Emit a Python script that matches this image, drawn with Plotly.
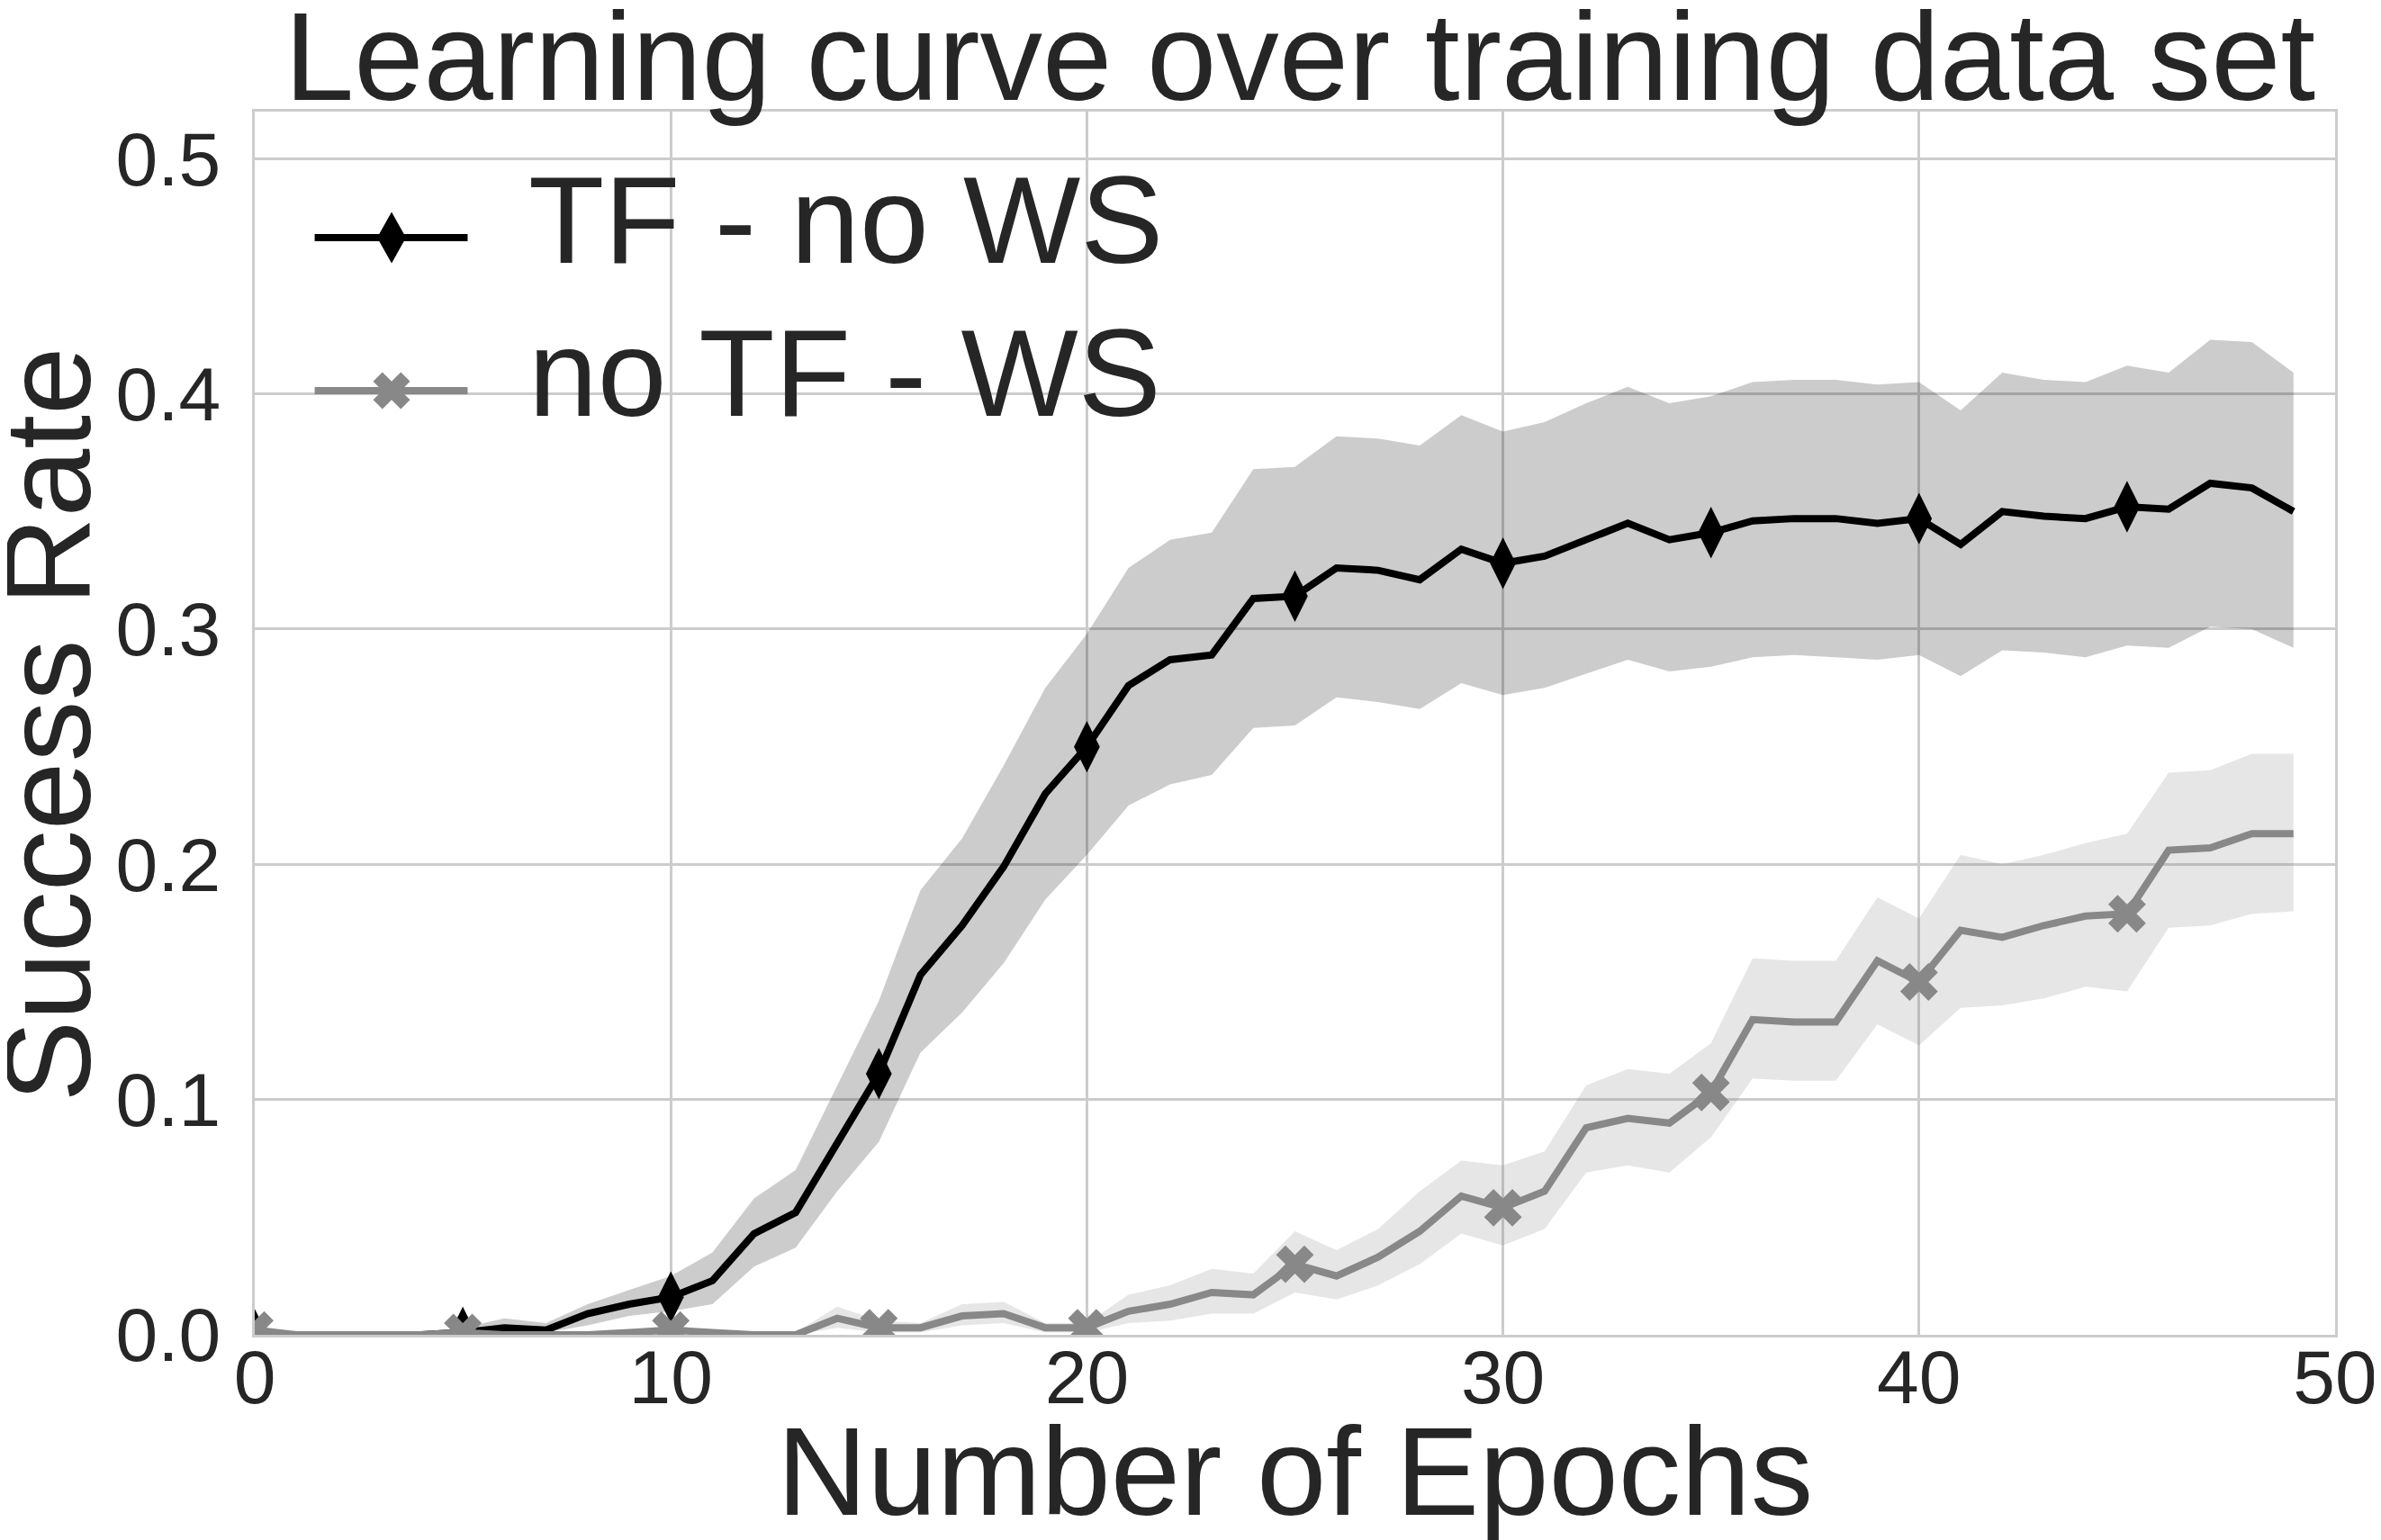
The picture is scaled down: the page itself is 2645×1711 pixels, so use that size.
import plotly.graph_objects as go

# epochs and success rates (mean with spread band)
epochs = list(range(50))

tf_mean = [0.000, 0.000, 0.000, 0.000, 0.000, 0.001, 0.003, 0.002, 0.009, 0.013,
           0.016, 0.023, 0.043, 0.052, 0.082, 0.111, 0.153, 0.174, 0.199, 0.230,
           0.250, 0.276, 0.287, 0.289, 0.313, 0.314, 0.326, 0.325, 0.321, 0.334,
           0.328, 0.331, 0.338, 0.345, 0.338, 0.341, 0.346, 0.347, 0.347, 0.345,
           0.347, 0.336, 0.350, 0.348, 0.347, 0.352, 0.351, 0.362, 0.360, 0.350]
tf_upper = [0.001, 0.001, 0.001, 0.001, 0.001, 0.003, 0.007, 0.005, 0.013, 0.019,
            0.025, 0.035, 0.058, 0.070, 0.106, 0.142, 0.189, 0.211, 0.242, 0.275,
            0.298, 0.326, 0.338, 0.341, 0.368, 0.369, 0.382, 0.381, 0.378, 0.391,
            0.384, 0.388, 0.396, 0.403, 0.396, 0.399, 0.405, 0.406, 0.406, 0.404,
            0.405, 0.393, 0.409, 0.406, 0.405, 0.412, 0.409, 0.423, 0.422, 0.409]
tf_lower = [0.000, 0.000, 0.000, 0.000, 0.000, 0.000, 0.001, 0.001, 0.004, 0.008,
            0.010, 0.013, 0.029, 0.037, 0.061, 0.082, 0.120, 0.137, 0.158, 0.185,
            0.204, 0.225, 0.234, 0.238, 0.258, 0.259, 0.271, 0.269, 0.266, 0.277,
            0.272, 0.275, 0.281, 0.287, 0.282, 0.284, 0.288, 0.289, 0.288, 0.287,
            0.289, 0.280, 0.291, 0.290, 0.288, 0.293, 0.292, 0.301, 0.300, 0.292]

ws_mean = [0.002, 0.000, 0.000, 0.000, 0.000, 0.001, 0.000, 0.000, 0.000, 0.001,
           0.002, 0.001, 0.000, 0.000, 0.007, 0.003, 0.003, 0.008, 0.009, 0.003,
           0.003, 0.010, 0.013, 0.018, 0.017, 0.030, 0.025, 0.033, 0.044, 0.059,
           0.054, 0.061, 0.088, 0.092, 0.090, 0.103, 0.134, 0.133, 0.133, 0.159,
           0.150, 0.172, 0.169, 0.174, 0.178, 0.179, 0.206, 0.207, 0.213, 0.213]
ws_upper = [0.004, 0.001, 0.001, 0.001, 0.001, 0.001, 0.001, 0.001, 0.001, 0.002,
            0.004, 0.002, 0.001, 0.001, 0.012, 0.006, 0.005, 0.013, 0.014, 0.005,
            0.005, 0.017, 0.021, 0.028, 0.026, 0.044, 0.036, 0.045, 0.061, 0.074,
            0.072, 0.078, 0.106, 0.113, 0.111, 0.124, 0.160, 0.159, 0.159, 0.186,
            0.177, 0.204, 0.200, 0.204, 0.209, 0.213, 0.239, 0.240, 0.247, 0.247]
ws_lower = [0.000, 0.000, 0.000, 0.000, 0.000, 0.000, 0.000, 0.000, 0.000, 0.000,
            0.000, 0.000, 0.000, 0.000, 0.003, 0.001, 0.001, 0.004, 0.005, 0.001,
            0.001, 0.005, 0.006, 0.009, 0.009, 0.018, 0.015, 0.021, 0.030, 0.043,
            0.038, 0.045, 0.069, 0.072, 0.069, 0.084, 0.109, 0.108, 0.108, 0.132,
            0.123, 0.139, 0.140, 0.143, 0.148, 0.146, 0.173, 0.174, 0.179, 0.180]

series_names = ["TF - no WS", "no TF - WS"]
x_ticks = [0, 10, 20, 30, 40, 50]
y_ticks = [0.0, 0.1, 0.2, 0.3, 0.4, 0.5]

FONT = "Liberation Sans, Arial, sans-serif"
TEXT = "#262626"
GRID = "#cccccc"
W, H = 2645, 1711
L, R, T, B = 275, 2601, 116, 1475  # plot area in pixels


def px(xp):
    return (xp - L) / (R - L)


def py(yp):
    return (B - yp) / (B - T)


fig = go.Figure()

series = [
    (tf_mean, tf_upper, tf_lower, "black", "rgba(0,0,0,0.2)", "diamond-tall", 41),
    (ws_mean, ws_upper, ws_lower, "#888888", "rgba(128,128,128,0.2)", "x", 37),
]
for (mean, upper, lower, color, band, symbol, msize) in series:
    fig.add_trace(go.Scatter(x=epochs, y=upper, mode="lines", line=dict(width=0),
                             hoverinfo="skip", showlegend=False))
    fig.add_trace(go.Scatter(x=epochs, y=lower, mode="lines", line=dict(width=0),
                             fill="tonexty", fillcolor=band,
                             hoverinfo="skip", showlegend=False))
    fig.add_trace(go.Scatter(x=epochs, y=mean, mode="lines",
                             line=dict(color=color, width=8), showlegend=False))
    fig.add_trace(go.Scatter(x=epochs[::5], y=mean[::5], mode="markers",
                             marker=dict(symbol=symbol, size=msize, color=color,
                                         line=dict(width=0)),
                             showlegend=False))

# hand-made legend (big glyphs like the original)
leg_rows = [256, 426]
leg_colors = ["black", "#888888"]
diamond = "M0,-28.5 L16,0 L0,28.5 L-16,0 Z"
r = 10.25
xpath = ("M0,{a} L{a},{b} L{b},{a} L{a},0 L{b},-{a} L{a},-{b} L0,-{a} "
         "L-{a},-{b} L-{b},-{a} L-{a},0 L-{b},{a} L-{a},{b} Z").format(a=r, b=2 * r)
shapes = []
annotations = []
for row, col, path, name in zip(leg_rows, leg_colors, [diamond, xpath], series_names):
    shapes.append(dict(type="line", xref="paper", yref="paper",
                       x0=px(342), x1=px(513), y0=py(row), y1=py(row),
                       line=dict(color=col, width=8)))
    shapes.append(dict(type="path", xref="paper", yref="paper",
                       xsizemode="pixel", ysizemode="pixel",
                       xanchor=px(428), yanchor=py(row), path=path,
                       fillcolor=col, line=dict(width=0)))
    annotations.append(dict(text=name, xref="paper", yref="paper",
                            x=px(579), y=py(row - 20), xanchor="left", yanchor="middle",
                            showarrow=False, font=dict(size=138, color=TEXT, family=FONT)))

annotations.append(dict(text="Number of Epochs", xref="paper", yref="paper",
                        x=0.5, y=py(1626), xanchor="center", yanchor="middle",
                        showarrow=False, font=dict(size=139, color=TEXT, family=FONT)))
annotations.append(dict(text="Success Rate", xref="paper", yref="paper",
                        x=px(44), y=py(797), xanchor="center", yanchor="middle",
                        textangle=-90, showarrow=False,
                        font=dict(size=136, color=TEXT, family=FONT)))

fig.update_layout(
    width=W, height=H,
    margin=dict(l=L, r=W - R, t=T, b=H - B),
    paper_bgcolor="white", plot_bgcolor="white",
    font=dict(family=FONT, color=TEXT),
    title=dict(text="Learning curve over training data set", x=1436 / W,
               xanchor="center", y=1 - 54 / H, yanchor="middle", yref="container",
               font=dict(size=139, color=TEXT, family=FONT)),
    xaxis=dict(range=[0, 50], tickvals=x_ticks, showgrid=True, gridcolor=GRID, gridwidth=2.7,
               showline=True, linecolor=GRID, linewidth=2.7, mirror=True, zeroline=False,
               ticks="", ticklabelstandoff=-28, ticklabeloverflow="allow",
               tickfont=dict(size=84, color=TEXT, family=FONT)),
    yaxis=dict(range=[0, 0.52], tickvals=y_ticks, tickformat=".1f", showgrid=True,
               gridcolor=GRID, gridwidth=2.7, showline=True, linecolor=GRID, linewidth=2.7,
               mirror=True, zeroline=False, ticks="outside", ticklen=18,
               tickcolor="rgba(0,0,0,0)", tickfont=dict(size=84, color=TEXT, family=FONT)),
    shapes=shapes,
    annotations=annotations,
    showlegend=False,
)

fig.write_html("out.html")
